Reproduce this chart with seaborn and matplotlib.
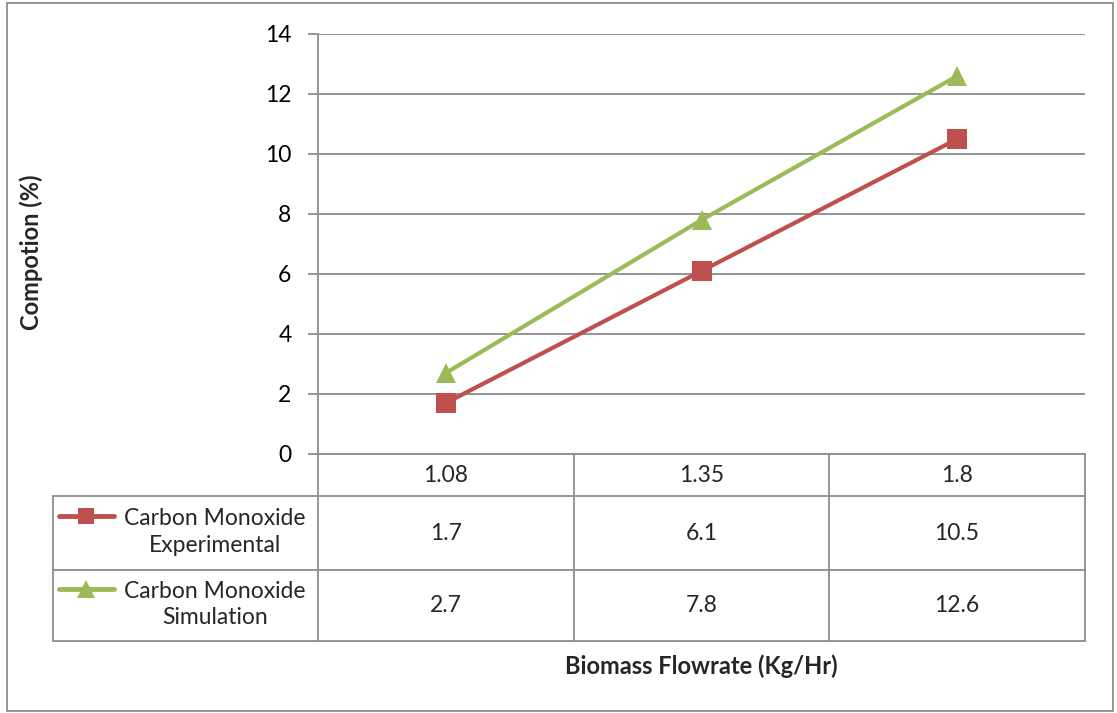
import matplotlib
matplotlib.use("Agg")
import matplotlib.pyplot as plt
import seaborn as sns
import pandas as pd
from matplotlib.lines import Line2D
from matplotlib.patches import Rectangle

categories = ["1.08", "1.35", "1.8"]
experimental = [1.7, 6.1, 10.5]
simulation = [2.7, 7.8, 12.6]
series_names = ["Carbon Monoxide\nExperimental", "Carbon Monoxide\nSimulation"]
y_ticks = [0, 2, 4, 6, 8, 10, 12, 14]

RED = "#C0504D"
GREEN = "#9BBB59"
GRID = "#8C8C8C"
FS = 16.5
TFS = 17

sns.set_theme(style="white")
plt.rcParams['font.family'] = ['Lato', 'DejaVu Sans']

W, H = 1117, 713
fig = plt.figure(figsize=(W / 100, H / 100), dpi=100)

def fx(px):
    return px / W

def fy(py):
    return 1 - py / H

L, R, T, B = 318, 1085, 34, 454
ax = fig.add_axes([fx(L), fy(B), fx(R) - fx(L), fy(T) - fy(B)])

df = pd.DataFrame({
    "x": list(range(len(categories))) * 2,
    "value": experimental + simulation,
    "series": [series_names[0]] * 3 + [series_names[1]] * 3,
})

sns.lineplot(data=df[df.series == series_names[0]], x="x", y="value", ax=ax,
             color=RED, lw=3, marker="s", markersize=14, markeredgewidth=0,
             legend=False)
sns.lineplot(data=df[df.series == series_names[1]], x="x", y="value", ax=ax,
             color=GREEN, lw=3, marker="^", markersize=15, markeredgewidth=0,
             legend=False)

ax.set_xlim(-0.5, 2.5)
ax.set_ylim(0, 14)
ax.set_yticks(y_ticks)
ax.set_yticklabels([str(t) for t in y_ticks], fontsize=FS)
ax.set_xticks([])
ax.set_xlabel("")
ax.set_ylabel("")
ax.grid(axis="y", color=GRID, lw=1.3)
ax.set_axisbelow(True)
for s in ["top", "right", "bottom"]:
    ax.spines[s].set_visible(False)
ax.spines["left"].set_color(GRID)
ax.spines["left"].set_linewidth(1.3)
ax.tick_params(axis="y", which="major", left=True, length=7, width=1.3,
               color=GRID, pad=12, labelcolor="black")

# Data table
def hline(x0, x1, y):
    fig.add_artist(Line2D([fx(x0), fx(x1)], [fy(y), fy(y)], color=GRID, lw=1.3,
                          transform=fig.transFigure))

def vline(x, y0, y1):
    fig.add_artist(Line2D([fx(x), fx(x)], [fy(y0), fy(y1)], color=GRID, lw=1.3,
                          transform=fig.transFigure))

col_edges = [318, 574, 829, 1085]
row_edges = [454, 496, 570, 641]
LEG_L = 53

hline(L, R, 454)
for y in row_edges[1:]:
    hline(LEG_L, R, y)
vline(LEG_L, 496, 641)
vline(L, 454, 641)
for x in col_edges[1:]:
    vline(x, 454, 641)

centers = [(col_edges[i] + col_edges[i + 1]) / 2 for i in range(3)]
for c, lab in zip(centers, categories):
    fig.text(fx(c), fy(475), lab, ha="center", va="center", fontsize=FS)

rows = [experimental, simulation]
for r, vals in enumerate(rows):
    yc = (row_edges[r + 1] + row_edges[r + 2]) / 2
    for c, v in zip(centers, vals):
        fig.text(fx(c), fy(yc), f"{v}", ha="center", va="center", fontsize=FS)

# Legend keys inside table
for r, (name, col, mk, ms) in enumerate(zip(series_names, [RED, GREEN], ["s", "^"], [12, 13])):
    yc = (row_edges[r + 1] + row_edges[r + 2]) / 2
    ykey = yc - 17
    fig.add_artist(Line2D([fx(59), fx(114)], [fy(ykey), fy(ykey)], color=col, lw=3.5,
                          transform=fig.transFigure, solid_capstyle="round"))
    fig.add_artist(Line2D([fx(86)], [fy(ykey)], color=col, marker=mk, markersize=ms,
                          markeredgewidth=0, transform=fig.transFigure))
    fig.text(fx(215), fy(yc - 1), name, ha="center", va="center", fontsize=FS,
             linespacing=1.35)

# Axis titles
fig.text(fx(31), fy(252), "Compotion (%)", rotation=90, ha="center", va="center",
         fontsize=TFS, fontweight="bold")
fig.text(fx(701), fy(666), "Biomass Flowrate (Kg/Hr)", ha="center", va="center",
         fontsize=TFS, fontweight="bold")

# Outer chart border
fig.add_artist(Rectangle((fx(7), fy(711)), fx(1113) - fx(7), fy(3) - fy(711),
                         fill=False, edgecolor=GRID, lw=1.3, transform=fig.transFigure))

fig.savefig("out.png", dpi=100, facecolor="white")
